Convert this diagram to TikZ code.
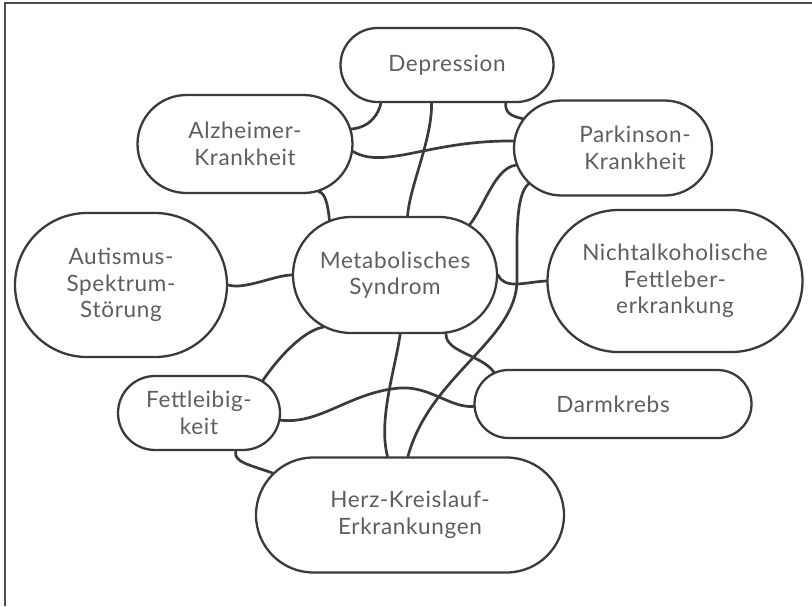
\documentclass[tikz,border=0pt]{standalone}
\usepackage{fontspec}
\setmainfont{Lato}[LetterSpace=3]
\usetikzlibrary{shapes.misc}
\definecolor{ink}{HTML}{3A3A3A}
\definecolor{txt}{HTML}{5E5E5E}
\pgfdeclarelayer{bg}
\pgfsetlayers{bg,main}
\begin{document}
\begin{tikzpicture}[x=1pt,y=-1pt,
  blob/.style={rounded rectangle, draw=ink, line width=2.3pt, fill=white, inner sep=0pt,
    align=center, text=txt, font=\fontsize{22.5}{26.5}\selectfont},
  link/.style={draw=ink, line width=2.7pt, line cap=round}]
\useasboundingbox (0,0) rectangle (812,606);
\draw[draw=ink!90, line width=2.4pt] (5,606) coordinate (fl) -- (5,3) coordinate (fc) -- (812,3) coordinate (fr);

\node[blob, minimum width=213pt, minimum height=74pt] (dep) at (447,65) {Depression};
\node[blob, minimum width=215pt, minimum height=98pt] (alz) at (245,144) {Alzheimer-\\Krankheit};
\node[blob, minimum width=198pt, minimum height=95pt] (park) at (613,148) {\hspace*{44pt}Parkinson-\\\hspace*{44pt}Krankheit};
\node[blob, minimum width=212pt, minimum height=144pt] (aut) at (121,285) {Autismus-\\Spektrum-\\Störung};
\node[blob, minimum width=204pt, minimum height=116pt] (met) at (395,275) {Metabolisches\\Syndrom};
\node[blob, minimum width=255pt, minimum height=142pt] (naf) at (675,281) {Nichtalkoholische\\Fettleber-\\erkrankung};
\node[blob, minimum width=277pt, minimum height=68pt] (darm) at (613,404) {Darmkrebs};
\node[blob, minimum width=162pt, minimum height=74pt] (fett) at (199,413) {Fettleibig-\\keit};
\node[blob, minimum width=308pt, minimum height=115pt] (herz) at (410,515) {Herz-Kreislauf-\\Erkrankungen};

\begin{pgfonlayer}{bg}
\draw[link] (alz.8) .. controls (372,127) and (379,112) .. (dep.210);
\draw[link] (alz.-4) .. controls (385,170) and (430,140) .. (park.176);
\draw[link] (dep.248) .. controls (432,140) and (410,185) .. (met.78);
\draw[link] (dep.-33) .. controls (505,112) and (510,116) .. (park.162);
\draw[link] (park.190) .. controls (495,168) and (485,205) .. (met.34);
\draw[link] (park.203) .. controls (515,195) and (517,240) .. (517,280)
  .. controls (517,340) and (430,375) .. (herz.92);
\draw[link] (met.east) .. controls (505,290) and (525,282) .. (naf.west);
\draw[link] (met.-49) .. controls (445,352) and (482,355) .. (darm.165);
\draw[link] (met.-85) .. controls (395,370) and (378,420) .. (herz.111);
\draw[link] (met.216) .. controls (305,330) and (280,355) .. (fett.27);
\draw[link] (fett.-5) .. controls (320,425) and (350,392) .. (400,388)
  .. controls (430,386) and (450,408) .. (darm.181);
\draw[link] (fett.-46) .. controls (233,462) and (250,465) .. (herz.163);
\draw[link] (aut.east) .. controls (245,290) and (275,275) .. (met.west);
\draw[link] (alz.-33) .. controls (325,192) and (328,205) .. (met.140);
\end{pgfonlayer}
\end{tikzpicture}
\end{document}
